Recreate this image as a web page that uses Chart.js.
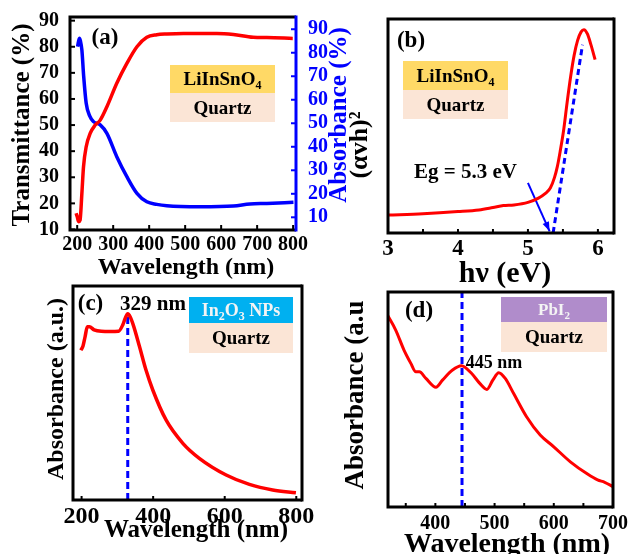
<!DOCTYPE html>
<html><head><meta charset="utf-8">
<script src="https://cdn.jsdelivr.net/npm/chart.js@4.4.0/dist/chart.umd.min.js"></script>
<style>
html,body{margin:0;padding:0;background:#fff;width:630px;height:554px;overflow:hidden}
canvas{position:absolute;left:0;top:0}
</style></head><body>
<canvas id="ca" width="630" height="554"></canvas>
<canvas id="cb" width="630" height="554"></canvas>
<canvas id="cc" width="630" height="554"></canvas>
<canvas id="cd" width="630" height="554"></canvas>
<script>
// ---------- Panel (a) ----------
const aWavelengthT = [197,200,203.7,208,213,217.5,225,236,250,264,282.5,310,338,366,393.5,421,449,495,588,634,689,727,799];
const aTransmittance = [16.2,15.0,13.0,13.6,23.8,34,41.7,46.8,50,51.9,57,66,73.6,80,83.6,84.6,84.9,85.1,85.1,84.7,83.6,83.5,83.2];
const aWavelengthA = [201,206,209,213,218,225,235,245,264,282.5,310,338,366,393.5,421,449,542,634,680,727,801];
const aAbsorbance = [82.6,86.2,85,81.2,70,58.5,53,50.7,49.3,45.7,35.8,27.3,20.2,16.6,15.5,14.9,14.5,14.8,15.7,15.9,16.4];
const aXTicks = [200,300,400,500,600,700,800];
const aLeftTicks = [10,20,30,40,50,60,70,80,90];
const aRightTicks = [10,20,30,40,50,60,70,80,90];
// ---------- Panel (b) ----------
const bEnergy = [3.0,3.5,4.0,4.3,4.5,4.65,4.8,5.0,5.15,5.25,5.32,5.38,5.42,5.46,5.51,5.56,5.61,5.66,5.71,5.76,5.80,5.85,5.90,5.96];
const bAlphaHv2 = [8.4,9.0,10.0,10.8,11.9,12.8,13.1,14.3,16.3,18.5,21,26,31,38,48,61,73,83,90,94,95,93,88,81];
const bFitX = [5.36,5.78];
const bFitY = [0,88];
const bArrowX = [5.00,5.31];
const bArrowY = [23.4,0.8];
const bXTicks = [3,4,5,6];
const bMinorTicks = [3.5,4,4.5,5,5.5,6];
// ---------- Panel (c) ----------
const cWavelength = [198,204,210,216,222,235,255,280,303,315,322,329,336,345,362,380,399,436,483,529,604,669,734,799];
const cAbsorbance = [70,72,76.5,81,81,79.5,78.8,78.7,78.8,81.8,85,87,85.5,81.5,71.6,60.7,51.4,37.4,26.5,19.5,11.7,7.3,4.7,3.4];
const cPeakX = [329,329];
const cPeakY = [0,86];
const cXTicks = [200,400,600,800];
// ---------- Panel (d) ----------
const dWavelength = [319,333,347,358.6,367,373,384,401,412,429,444,461,475,487,497,507,518,532,554,577,600,628,657,674,686,700];
const dAbsorbance = [89.3,82.3,73,66.8,62.9,62.9,59.8,55.7,59,63.7,65.7,62.2,57.5,54.7,59,62.5,59.8,52.9,42,33.5,28,21,15.3,12.6,11.5,9.5];
const dPeakX = [445,445];
const dPeakY = [0,100];
const dXTicks = [400,500,600,700];
const dMinorTicks = [350,400,450,500,550,600,650];

const FONT = '"Liberation Serif","Times New Roman",serif';
Chart.defaults.font.family = FONT;
const pts = (xs, ys) => xs.map((x, i) => ({x, y: ys[i]}));
const fixTicks = arr => s => { s.ticks = arr.map(v => ({value: v})); };

function txt(ctx, t, x, y, size, color, rot) {
  ctx.save();
  ctx.font = 'bold ' + size + 'px ' + FONT;
  ctx.fillStyle = color || '#000';
  ctx.textAlign = 'center';
  ctx.textBaseline = 'middle';
  ctx.translate(x, y);
  if (rot) ctx.rotate(rot);
  ctx.fillText(t, 0, 0);
  ctx.restore();
}
function rich(ctx, parts, cx, cy, size, color) {
  ctx.save();
  ctx.fillStyle = color;
  ctx.textBaseline = 'alphabetic';
  ctx.textAlign = 'left';
  const sub = Math.round(size * 0.65);
  let w = 0;
  parts.forEach(p => { ctx.font = 'bold ' + (p[1] ? sub : size) + 'px ' + FONT; w += ctx.measureText(p[0]).width; });
  let x = cx - w / 2;
  const base = cy + size * 0.33;
  parts.forEach(p => {
    ctx.font = 'bold ' + (p[1] ? sub : size) + 'px ' + FONT;
    ctx.fillText(p[0], x, p[1] ? base + size * 0.22 : base);
    x += ctx.measureText(p[0]).width;
  });
  ctx.restore();
}
function box(ctx, x1, y1, x2, y2, fill) {
  ctx.save(); ctx.fillStyle = fill; ctx.fillRect(x1, y1, x2 - x1, y2 - y1); ctx.restore();
}
function frame(ctx, ca, rightColor) {
  ctx.save();
  ctx.lineWidth = 3;
  ctx.strokeStyle = '#000';
  ctx.beginPath();
  ctx.moveTo(ca.right, ca.top); ctx.lineTo(ca.left, ca.top); ctx.lineTo(ca.left, ca.bottom); ctx.lineTo(ca.right, ca.bottom);
  ctx.stroke();
  ctx.strokeStyle = rightColor || '#000';
  ctx.beginPath(); ctx.moveTo(ca.right, ca.top - 1.5); ctx.lineTo(ca.right, ca.bottom + 1.5); ctx.stroke();
  ctx.restore();
}
function xTickMarks(ctx, chart, vals, len, color) {
  const s = chart.scales.x, ca = chart.chartArea;
  ctx.save(); ctx.strokeStyle = color || '#000'; ctx.lineWidth = 2;
  vals.forEach(v => { const p = s.getPixelForValue(v); ctx.beginPath(); ctx.moveTo(p, ca.bottom); ctx.lineTo(p, ca.bottom - len); ctx.stroke(); });
  ctx.restore();
}
function yTickMarks(ctx, chart, id, vals, len, side, color) {
  const s = chart.scales[id], ca = chart.chartArea;
  ctx.save(); ctx.strokeStyle = color || '#000'; ctx.lineWidth = 2;
  vals.forEach(v => {
    const p = s.getPixelForValue(v);
    const x0 = side === 'left' ? ca.left : ca.right;
    const x1 = side === 'left' ? ca.left + len : ca.right - len;
    ctx.beginPath(); ctx.moveTo(x0, p); ctx.lineTo(x1, p); ctx.stroke();
  });
  ctx.restore();
}
const GOLD = '#FFD966', PEACH = '#FBE5D6', SKY = '#00B0F0', LILAC = '#B08CCB';
const baseOpts = (pad) => ({
  responsive: false, animation: false, events: [],
  layout: {padding: pad, autoPadding: false},
  plugins: {legend: {display: false}, tooltip: {enabled: false}}
});
const tickFont = (size) => ({size: size, weight: 'bold', family: FONT});
const line = (data, color, width, extra) => Object.assign({data, borderColor: color, borderWidth: width, pointRadius: 0, fill: false, cubicInterpolationMode: 'monotone'}, extra || {});

// ---------- Chart (a) ----------
new Chart(document.getElementById('ca'), {
  type: 'line',
  data: {datasets: [
    line(pts(aWavelengthT, aTransmittance), '#FF0000', 3.5, {yAxisID: 'y'}),
    line(pts(aWavelengthA, aAbsorbance), '#0000FF', 3.5, {yAxisID: 'y2'})
  ]},
  options: Object.assign(baseOpts({left: 20, right: 294, top: 17, bottom: 294}), {
    scales: {
      x: {type: 'linear', min: 180, max: 808, afterBuildTicks: fixTicks(aXTicks), afterFit: s => { s.height = 30; },
          grid: {display: false}, border: {display: false},
          ticks: {font: tickFont(20), color: '#000', padding: -5, maxRotation: 0, autoSkip: false}},
      y: {type: 'linear', position: 'left', min: 9.8, max: 91.4, afterBuildTicks: fixTicks(aLeftTicks), afterFit: s => { s.width = 50; },
          grid: {display: false}, border: {display: false},
          ticks: {font: tickFont(20), color: '#000', padding: 3, autoSkip: false}},
      y2: {type: 'linear', position: 'right', min: 4.6, max: 95.2, afterBuildTicks: fixTicks(aRightTicks), afterFit: s => { s.width = 40; },
          grid: {display: false}, border: {display: false},
          ticks: {font: tickFont(20), color: '#0000FF', padding: 4, autoSkip: false}}
    }
  }),
  plugins: [{id: 'decoA', afterDraw(chart) {
    const ctx = chart.ctx, ca = chart.chartArea;
    frame(ctx, ca, '#0000FF');
    yTickMarks(ctx, chart, 'y', aLeftTicks, 5, 'left');
    yTickMarks(ctx, chart, 'y2', aRightTicks, 5, 'right', '#0000FF');
    xTickMarks(ctx, chart, aXTicks, 5);
    txt(ctx, '(a)', 105, 38, 23);
    box(ctx, 170, 65, 275, 93, GOLD);
    box(ctx, 170, 93, 275, 122, PEACH);
    rich(ctx, [['LiInSnO', 0], ['4', 1]], 222.5, 79, 19, '#000');
    rich(ctx, [['Quartz', 0]], 222.5, 107.5, 19, '#000');
    txt(ctx, 'Transmittance (%)', 23, 125, 25, '#000', -Math.PI / 2);
    txt(ctx, 'Absorbance (%)', 340, 115, 25, '#0000FF', -Math.PI / 2);
    txt(ctx, 'Wavelength (nm)', 186, 268, 24);
  }}]
});

// ---------- Chart (b) ----------
new Chart(document.getElementById('cb'), {
  type: 'line',
  data: {datasets: [
    line(pts(bEnergy, bAlphaHv2), '#FF0000', 3),
    line(pts(bFitX, bFitY), '#0000FF', 3, {borderDash: [6, 4], cubicInterpolationMode: 'default'}),
    line(pts(bArrowX, bArrowY), '#0000FF', 2, {cubicInterpolationMode: 'default'})
  ]},
  options: Object.assign(baseOpts({left: 388, right: 16, top: 19, bottom: 291}), {
    scales: {
      x: {type: 'linear', min: 3, max: 6.23, afterBuildTicks: fixTicks(bXTicks), afterFit: s => { s.height = 30; },
          grid: {display: false}, border: {display: false},
          ticks: {font: tickFont(23), color: '#000', padding: -6, maxRotation: 0, autoSkip: false}},
      y: {type: 'linear', display: false, min: 0, max: 100}
    }
  }),
  plugins: [{id: 'decoB', afterDraw(chart) {
    const ctx = chart.ctx, ca = chart.chartArea;
    frame(ctx, ca);
    xTickMarks(ctx, chart, bMinorTicks, 4);
    const sx = chart.scales.x, sy = chart.scales.y;
    const x0 = sx.getPixelForValue(bArrowX[0]), y0 = sy.getPixelForValue(bArrowY[0]);
    const x1 = sx.getPixelForValue(bArrowX[1]), y1 = sy.getPixelForValue(bArrowY[1]);
    const ang = Math.atan2(y1 - y0, x1 - x0);
    ctx.save(); ctx.fillStyle = '#0000FF'; ctx.beginPath();
    ctx.moveTo(x1, y1);
    ctx.lineTo(x1 - 10 * Math.cos(ang - 0.35), y1 - 10 * Math.sin(ang - 0.35));
    ctx.lineTo(x1 - 10 * Math.cos(ang + 0.35), y1 - 10 * Math.sin(ang + 0.35));
    ctx.closePath(); ctx.fill(); ctx.restore();
    txt(ctx, '(b)', 411, 41, 23);
    box(ctx, 403, 61, 508, 90, GOLD);
    box(ctx, 403, 90, 508, 119, PEACH);
    rich(ctx, [['LiInSnO', 0], ['4', 1]], 455.5, 75.5, 19, '#000');
    rich(ctx, [['Quartz', 0]], 455.5, 104.5, 19, '#000');
    txt(ctx, 'Eg = 5.3 eV', 465.5, 173, 21);
    txt(ctx, '(\u03B1vh)\u00B2', 360, 145, 26, '#000', -Math.PI / 2);
    txt(ctx, 'h\u03BD (eV)', 505, 274, 30);
  }}]
});

// ---------- Chart (c) ----------
new Chart(document.getElementById('cc'), {
  type: 'line',
  data: {datasets: [
    line(pts(cWavelength, cAbsorbance), '#FF0000', 3.5),
    line(pts(cPeakX, cPeakY), '#0000FF', 3, {borderDash: [7, 4], cubicInterpolationMode: 'default'})
  ]},
  options: Object.assign(baseOpts({left: 73, right: 328, top: 286, bottom: 24}), {
    scales: {
      x: {type: 'linear', min: 176, max: 816, afterBuildTicks: fixTicks(cXTicks), afterFit: s => { s.height = 30; },
          grid: {display: false}, border: {display: false},
          ticks: {font: tickFont(24), color: '#000', padding: -6, maxRotation: 0, autoSkip: false}},
      y: {type: 'linear', display: false, min: 0, max: 100}
    }
  }),
  plugins: [{id: 'decoC', afterDraw(chart) {
    const ctx = chart.ctx, ca = chart.chartArea;
    frame(ctx, ca);
    xTickMarks(ctx, chart, cXTicks, 4);
    txt(ctx, '(c)', 90.5, 304, 23);
    txt(ctx, '329 nm', 153, 305, 21);
    box(ctx, 189, 297, 293, 323, SKY);
    box(ctx, 189, 323, 293, 353, PEACH);
    rich(ctx, [['In', 0], ['2', 1], ['O', 0], ['3', 1], [' NPs', 0]], 241, 310, 18, '#F4F4F4');
    rich(ctx, [['Quartz', 0]], 241, 338, 19, '#000');
    txt(ctx, 'Absorbance (a.u.)', 57, 389, 24, '#000', -Math.PI / 2);
    txt(ctx, 'Wavelength (nm)', 196, 531, 25);
  }}]
});

// ---------- Chart (d) ----------
new Chart(document.getElementById('cd'), {
  type: 'line',
  data: {datasets: [
    line(pts(dWavelength, dAbsorbance), '#FF0000', 3),
    line(pts(dPeakX, dPeakY), '#0000FF', 3, {borderDash: [7, 4], cubicInterpolationMode: 'default'})
  ]},
  options: Object.assign(baseOpts({left: 388, right: 17, top: 292, bottom: 17}), {
    scales: {
      x: {type: 'linear', min: 320, max: 700, afterBuildTicks: fixTicks(dXTicks), afterFit: s => { s.height = 30; },
          grid: {display: false}, border: {display: false},
          ticks: {font: tickFont(20), color: '#000', padding: -3, maxRotation: 0, autoSkip: false}},
      y: {type: 'linear', display: false, min: 0, max: 100}
    }
  }),
  plugins: [{id: 'decoD', afterDraw(chart) {
    const ctx = chart.ctx, ca = chart.chartArea;
    frame(ctx, ca);
    xTickMarks(ctx, chart, dMinorTicks, 4);
    txt(ctx, '(d)', 419, 311, 23);
    txt(ctx, '445 nm', 494, 363, 18);
    box(ctx, 501, 297, 607, 322, LILAC);
    box(ctx, 501, 322, 607, 352, PEACH);
    rich(ctx, [['PbI', 0], ['2', 1]], 554, 309.5, 17, '#F4F4F4');
    rich(ctx, [['Quartz', 0]], 554, 337, 19, '#000');
    txt(ctx, 'Absorbance (a.u', 356, 395, 27, '#000', -Math.PI / 2);
    txt(ctx, 'Wavelength (nm)', 507, 545, 28);
  }}]
});
</script>
</body></html>
